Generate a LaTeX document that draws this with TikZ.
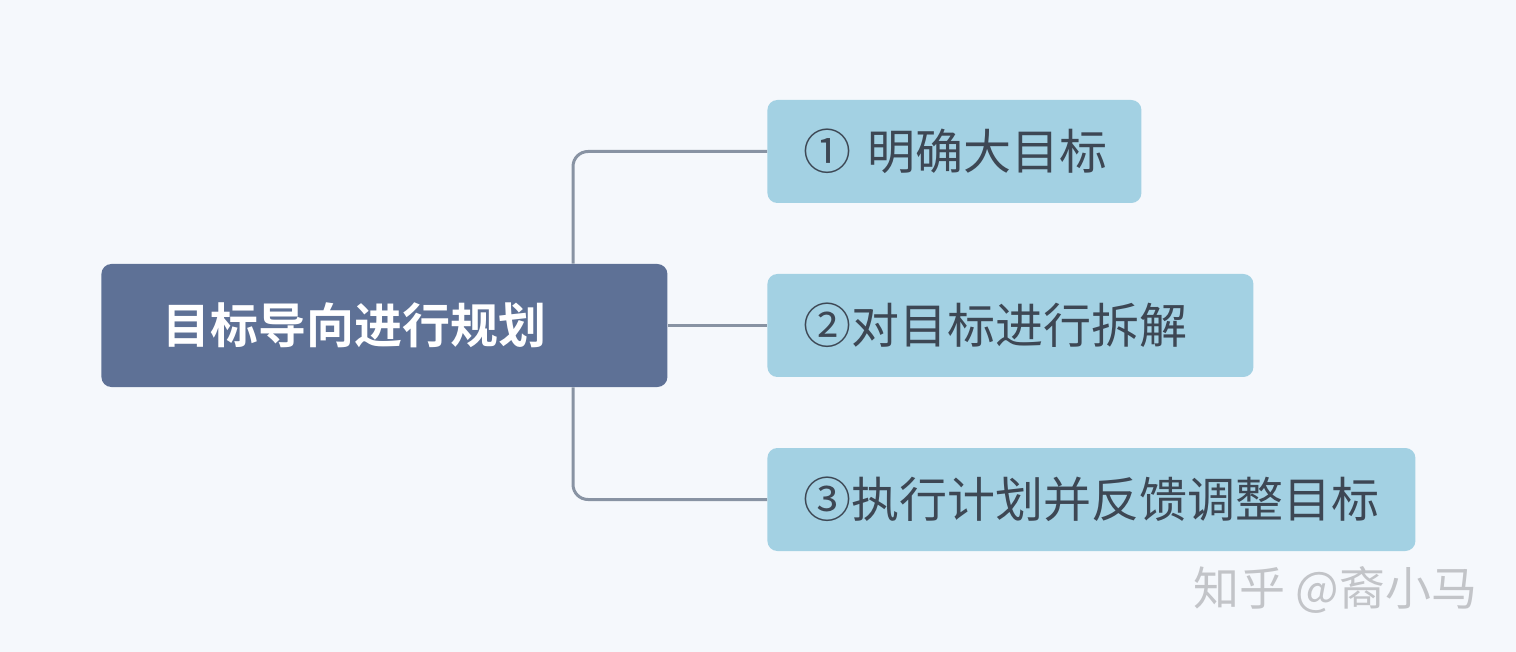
\documentclass[tikz,border=0pt]{standalone}
\usepackage{fontspec}
\setmainfont{Noto Sans CJK SC}
\newfontfamily\cjkbold{Noto Sans CJK SC Bold}
\definecolor{bgc}{HTML}{F5F8FC}
\definecolor{rootc}{HTML}{5E7196}
\definecolor{leafc}{HTML}{A3D1E3}
\definecolor{linec}{HTML}{8893A3}
\definecolor{txtc}{HTML}{3D4754}
\definecolor{wmc}{HTML}{C2C4C8}
\begin{document}
\begin{tikzpicture}[x=0.5pt,y=-0.5pt,
  rootbox/.style={fill=rootc, rounded corners=5pt, minimum height=61.5pt, inner xsep=30.5pt, inner ysep=0pt, text width=222pt, align=left, text=white, font=\cjkbold\fontsize{24pt}{28pt}\selectfont},
  leafbox/.style={fill=leafc, rounded corners=5pt, minimum height=51.5pt, inner xsep=18pt, inner ysep=0pt, align=left, text=txtc, font=\fontsize{24pt}{28pt}\selectfont},
  conn/.style={draw=linec, line width=1.5pt, rounded corners=7.5pt}]
\fill[bgc] (0,0) rectangle (1516,652);
\useasboundingbox (0,0) rectangle (1516,652);
\node[rootbox, anchor=west] (root) at (101,325.5) {目标导向进行规划};
\node[leafbox, anchor=west, text width=151pt] (a) at (767,151.5) {\mbox{①~明确大目标}};
\node[leafbox, anchor=west, text width=207pt] (b) at (767,325.5) {\mbox{②对目标进行拆解}};
\node[leafbox, anchor=west, text width=288pt] (c) at (767,499.5) {\mbox{③执行计划并反馈调整目标}};
\coordinate (tt) at (573,264);
\coordinate (tb) at (573,387);
\draw[conn] (root.east) -- (b.west);
\draw[conn] (root.north -| tt) |- (a.west);
\draw[conn] (root.south -| tb) |- (c.west);
\node[text=wmc, anchor=west, inner sep=0pt, font=\fontsize{23pt}{26pt}\selectfont] (wm) at (1193,590) {知乎 @裔小马};
\end{tikzpicture}
\end{document}
